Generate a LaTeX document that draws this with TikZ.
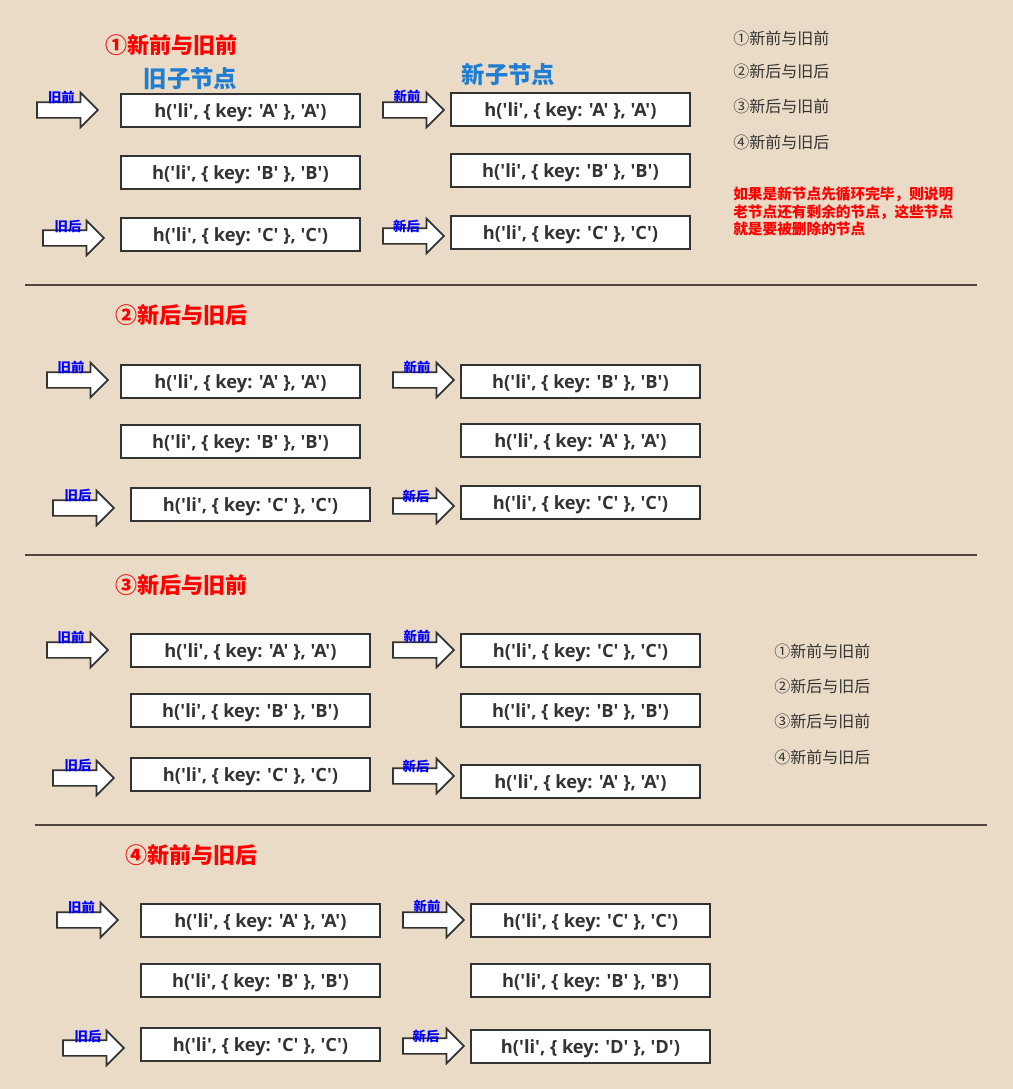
\documentclass[tikz,border=0pt]{standalone}
\usepackage{fontspec}
\setmainfont{Noto Sans CJK SC}
\newfontfamily\boxfont{Open Sans}
\usetikzlibrary{shapes.arrows}
\definecolor{paper}{RGB}{233,219,197}
\definecolor{ink}{RGB}{51,51,51}
\definecolor{rulecol}{RGB}{77,70,64}
\definecolor{hint}{RGB}{255,0,0}
\definecolor{headblue}{RGB}{31,125,212}
\definecolor{tagblue}{RGB}{0,0,255}
\tikzset{
  vbox/.style={draw=ink, line width=1.5pt, fill=white, minimum width=179.25pt,
               minimum height=24.75pt, inner sep=0pt, text=ink, text height=10.8pt, text depth=0pt,
               font=\boxfont\bfseries\fontsize{13.7}{15}\selectfont},
  ptr/.style={single arrow, draw=ink, line width=1.3pt, fill=white, inner xsep=0pt, inner ysep=5.25pt,
              minimum height=45.75pt, minimum width=24.75pt, xshift=-3pt},
  tag/.style={text=tagblue, inner sep=0pt, font=\bfseries\fontsize{10}{11}\selectfont},
  title/.style={text=hint, inner sep=0pt, font=\bfseries\fontsize{16.5}{18}\selectfont},
  side/.style={text=headblue, inner sep=0pt, font=\bfseries\fontsize{17.5}{19}\selectfont},
  legend/.style={anchor=west, text=ink, inner sep=0pt, font=\fontsize{12}{14}\selectfont},
  note/.style={anchor=north west, align=left, text=hint, inner sep=0pt,
               font=\bfseries\fontsize{11}{13.1}\selectfont},
  sep/.style={draw=rulecol, line width=1.5pt},
}

\begin{document}
\begin{tikzpicture}[x=0.75pt, y=-0.75pt]
  \fill[paper] (0,0) rectangle (1013,1089);
  \useasboundingbox (0,0) rectangle (1013,1089);

  % 1: new front vs old front
  \node[title] (h1) at (171.5,45) {①新前与旧前};
  \node[side] (oldhead) at (190.5,79) {旧子节点};
  \node[side] (newhead) at (508.5,75) {新子节点};
  \node[vbox] (o1a) at (240.5,110.5) {h('li', \{ key: 'A' \}, 'A')};
  \node[vbox] (o1b) at (240.5,172.5) {h('li', \{ key: 'B' \}, 'B')};
  \node[vbox] (o1c) at (240.5,234.5) {h('li', \{ key: 'C' \}, 'C')};
  \node[vbox] (n1a) at (570.5,109.5) {h('li', \{ key: 'A' \}, 'A')};
  \node[vbox] (n1b) at (570.5,170.5) {h('li', \{ key: 'B' \}, 'B')};
  \node[vbox] (n1c) at (570.5,232.5) {h('li', \{ key: 'C' \}, 'C')};
  \node[ptr] (p1of) at (67.5,110) {};
  \node[ptr] (p1ob) at (73.5,238) {};
  \node[ptr] (p1nf) at (413.5,110) {};
  \node[ptr] (p1nb) at (413.5,236) {};
  \node[tag] (t1of) at (61.5,97) {旧前};
  \node[tag] (t1ob) at (68,226) {旧后};
  \node[tag] (t1nf) at (407,96) {新前};
  \node[tag] (t1nb) at (406.5,226) {新后};
  \node[legend] (l1a) at (733,38) {①新前与旧前};
  \node[legend] (l1b) at (733,71) {②新后与旧后};
  \node[legend] (l1c) at (733,106) {③新后与旧前};
  \node[legend] (l1d) at (733,142) {④新前与旧后};
  \node[note] (remark) at (733,187) {如果是新节点先循环完毕，则说明\\老节点还有剩余的节点，这些节点\\就是要被删除的节点};
  \draw[sep] (25,285) -- (977,285);

  % 2: new back vs old back
  \node[title] (h2) at (181.5,315) {②新后与旧后};
  \node[vbox] (o2a) at (240.5,381.5) {h('li', \{ key: 'A' \}, 'A')};
  \node[vbox] (o2b) at (240.5,441.5) {h('li', \{ key: 'B' \}, 'B')};
  \node[vbox] (o2c) at (250.5,504) {h('li', \{ key: 'C' \}, 'C')};
  \node[vbox] (n2a) at (580.5,381.5) {h('li', \{ key: 'B' \}, 'B')};
  \node[vbox] (n2b) at (580.5,440.5) {h('li', \{ key: 'A' \}, 'A')};
  \node[vbox] (n2c) at (580.5,502.5) {h('li', \{ key: 'C' \}, 'C')};
  \node[ptr] (p2of) at (77.5,380) {};
  \node[ptr] (p2ob) at (83.5,508) {};
  \node[ptr] (p2nf) at (423.5,380) {};
  \node[ptr] (p2nb) at (423.5,506) {};
  \node[tag] (t2of) at (71,367) {旧前};
  \node[tag] (t2ob) at (78,495) {旧后};
  \node[tag] (t2nf) at (417,367) {新前};
  \node[tag] (t2nb) at (416,496) {新后};
  \draw[sep] (25,555) -- (977,555);

  % 3: new back vs old front
  \node[title] (h3) at (181.5,585) {③新后与旧前};
  \node[vbox] (o3a) at (250.5,650.5) {h('li', \{ key: 'A' \}, 'A')};
  \node[vbox] (o3b) at (250.5,710.5) {h('li', \{ key: 'B' \}, 'B')};
  \node[vbox] (o3c) at (250.5,774) {h('li', \{ key: 'C' \}, 'C')};
  \node[vbox] (n3a) at (580.5,650.5) {h('li', \{ key: 'C' \}, 'C')};
  \node[vbox] (n3b) at (580.5,710.5) {h('li', \{ key: 'B' \}, 'B')};
  \node[vbox] (n3c) at (580.5,781) {h('li', \{ key: 'A' \}, 'A')};
  \node[ptr] (p3of) at (77.5,650) {};
  \node[ptr] (p3ob) at (83.5,778) {};
  \node[ptr] (p3nf) at (423.5,650) {};
  \node[ptr] (p3nb) at (423.5,776) {};
  \node[tag] (t3of) at (71,637) {旧前};
  \node[tag] (t3ob) at (78,765) {旧后};
  \node[tag] (t3nf) at (417,636) {新前};
  \node[tag] (t3nb) at (416,766) {新后};
  \node[legend] (l3a) at (774,651) {①新前与旧前};
  \node[legend] (l3b) at (774,686) {②新后与旧后};
  \node[legend] (l3c) at (774,721) {③新后与旧前};
  \node[legend] (l3d) at (774,757) {④新前与旧后};
  \draw[sep] (35,825) -- (987,825);

  % 4: new front vs old back
  \node[title] (h4) at (191.5,855) {④新前与旧后};
  \node[vbox] (o4a) at (260.5,920.5) {h('li', \{ key: 'A' \}, 'A')};
  \node[vbox] (o4b) at (260.5,980.5) {h('li', \{ key: 'B' \}, 'B')};
  \node[vbox] (o4c) at (260.5,1044) {h('li', \{ key: 'C' \}, 'C')};
  \node[vbox] (n4a) at (590.5,920.5) {h('li', \{ key: 'C' \}, 'C')};
  \node[vbox] (n4b) at (590.5,980.5) {h('li', \{ key: 'B' \}, 'B')};
  \node[vbox] (n4c) at (590.5,1046.5) {h('li', \{ key: 'D' \}, 'D')};
  \node[ptr] (p4of) at (87.5,920) {};
  \node[ptr] (p4ob) at (93.5,1048) {};
  \node[ptr] (p4nf) at (433.5,920) {};
  \node[ptr] (p4nb) at (433.5,1046) {};
  \node[tag] (t4of) at (81.5,907) {旧前};
  \node[tag] (t4ob) at (88,1036) {旧后};
  \node[tag] (t4nf) at (427,906) {新前};
  \node[tag] (t4nb) at (426,1036) {新后};
\end{tikzpicture}
\end{document}
